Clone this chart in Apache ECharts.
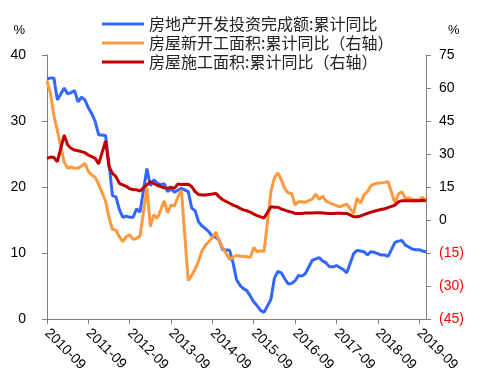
<!DOCTYPE html>
<html><head><meta charset="utf-8">
<script src="https://cdn.jsdelivr.net/npm/echarts@6/dist/echarts.min.js"></script>
<style>html,body{margin:0;padding:0;background:#fff}#c{width:480px;height:387px}</style>
</head><body><div id="c"></div>
<script>
// Monthly categories 2010-09 .. 2019-11 (January not published -> null)
const startYear = 2010, startMonth = 9, monthCount = 111;
const categories = [];
for (let i = 0; i < monthCount; i++) {
  const m = (startMonth - 1 + i) % 12 + 1;
  const y = startYear + Math.floor((startMonth - 1 + i) / 12);
  categories.push(y + '-' + (m < 10 ? '0' + m : m));
}
const seriesNames = ['房地产开发投资完成额:累计同比', '房屋新开工面积:累计同比（右轴）', '房屋施工面积:累计同比（右轴）'];
const investYoY = [36.4,36.5,36.5,33.2,
 null,35.0,34.1,34.3,34.6,32.9,33.6,33.2,32.0,31.1,29.9,27.9,
 null,27.8,23.5,18.7,18.5,16.6,15.4,15.6,15.4,15.4,16.7,16.2,
 null,22.8,20.2,21.1,20.6,20.3,20.5,19.3,19.7,19.2,19.5,19.8,
 null,19.3,16.8,16.4,14.7,14.1,13.7,13.2,12.5,12.4,11.9,10.5,
 null,10.4,8.5,6.0,5.1,4.6,4.3,3.5,2.6,2.0,1.3,1.0,
 null,3.0,6.2,7.2,7.0,6.1,5.3,5.4,5.8,6.6,6.5,6.9,
 null,8.9,9.1,9.3,8.8,8.5,7.9,7.9,8.1,7.8,7.5,7.0,
 null,9.9,10.4,10.3,10.2,9.7,10.2,10.1,9.9,9.7,9.7,9.5,
 null,11.6,11.8,11.9,11.2,10.9,10.6,10.5,10.5,10.3,10.2];
const newStartYoY = [63.3,57.5,47.5,40.7,
 null,26.2,23.5,24.2,23.5,23.6,24.5,25.8,22.0,20.5,19.4,16.2,
 null,8.5,1.0,-4.3,-4.6,-7.6,-9.8,-7.6,-6.8,-8.8,-8.3,-7.3,
 null,14.7,-3.0,2.3,0.8,4.5,8.8,3.3,6.8,6.4,10.5,13.5,
 null,-27.6,-25.2,-22.3,-18.5,-14.0,-11.5,-9.8,-8.0,-5.5,-9.8,-12.6,
 null,-17.9,-17.0,-16.0,-16.5,-16.5,-16.7,-17.0,-12.5,-14.4,-14.0,-14.2,
 null,12.9,19.2,21.4,18.3,14.4,12.3,12.1,6.8,8.3,8.3,8.1,
 null,9.5,11.8,9.3,10.9,8.5,7.8,7.2,6.5,6.0,6.7,7.2,
 null,3.0,10.0,7.6,11.4,12.9,15.5,16.4,16.7,16.9,17.1,17.4,
 null,7.6,11.8,12.9,9.8,10.0,9.4,9.1,9.3,10.3,9.1];
const underConstYoY = [28.0,28.6,28.4,26.5,
 null,38.6,34.1,32.6,31.8,31.5,31.1,30.6,29.5,28.8,28.0,25.5,
 null,35.9,24.2,21.2,19.7,16.7,16.0,15.3,14.2,13.9,13.7,13.2,
 null,16.0,17.4,16.6,15.8,15.2,14.6,14.4,14.9,14.4,16.4,16.1,
 null,16.2,15.2,12.9,11.6,11.4,11.4,11.6,11.8,12.1,10.5,9.2,
 null,7.6,6.8,6.2,5.3,4.6,4.2,3.6,2.7,2.0,1.4,0.9,
 null,6.0,5.8,5.8,5.0,4.5,4.0,3.6,3.0,3.0,3.0,3.2,
 null,3.2,3.3,3.3,3.2,3.1,3.0,3.0,3.1,3.1,3.0,3.0,
 null,1.5,1.5,1.8,2.4,3.0,3.6,4.0,4.4,4.8,5.1,5.6,
 null,6.8,8.2,8.8,8.8,8.8,8.7,8.8,8.7,9.0,8.7];
const colors = ['#3366FF', '#FF9940', '#C00000'];

const chart = echarts.init(document.getElementById('c'), null, {renderer: 'canvas'});
const axisLine = {show: true, lineStyle: {color: '#808080', width: 1}};
const numFont = 'Liberation Sans, Arial, sans-serif';
chart.setOption({
  animation: false,
  color: colors,
  grid: {left: 47, right: 54, top: 55, bottom: 68, containLabel: false},
  legend: {
    orient: 'vertical', left: 97, top: 11, itemWidth: 42, itemHeight: 3, itemGap: 3,
    icon: 'rect',
    textStyle: {fontFamily: 'Noto Sans CJK SC', fontSize: 16, color: '#222'},
    data: seriesNames
  },
  xAxis: {
    type: 'category', data: categories, boundaryGap: false,
    axisLine: axisLine,
    axisTick: {show: true, interval: 11, length: 5, lineStyle: {color: '#808080'}},
    axisLabel: {interval: 11, rotate: -45, margin: 12, fontFamily: numFont, fontSize: 14, color: '#000'},
    splitLine: {show: false}
  },
  yAxis: [{
    type: 'value', min: 0, max: 40, interval: 10, position: 'left',
    name: '%', nameLocation: 'end', nameGap: 18,
    nameTextStyle: {fontFamily: numFont, fontSize: 13, color: '#000', align: 'right', padding: [0, 22, 0, 0]},
    axisLine: axisLine,
    axisTick: {show: true, length: 5, lineStyle: {color: '#808080'}},
    axisLabel: {margin: 21, fontFamily: numFont, fontSize: 14, color: '#000'},
    splitLine: {show: false}
  }, {
    type: 'value', min: -45, max: 75, interval: 15, position: 'right',
    name: '%', nameLocation: 'end', nameGap: 18,
    nameTextStyle: {fontFamily: numFont, fontSize: 13, color: '#000', align: 'left', padding: [0, 0, 0, 22]},
    axisLine: axisLine,
    axisTick: {show: true, length: 5, lineStyle: {color: '#808080'}},
    axisLabel: {
      margin: 13, fontFamily: numFont, fontSize: 14, color: '#000',
      formatter: function (v) { return v < 0 ? '{neg|(' + (-v) + ')}' : String(v); },
      rich: {neg: {color: '#FF0000', fontFamily: numFont, fontSize: 14}}
    },
    splitLine: {show: false}
  }],
  series: [
    {name: seriesNames[0], type: 'line', yAxisIndex: 0, data: investYoY, connectNulls: true, showSymbol: false, symbol: 'none', lineStyle: {width: 3}},
    {name: seriesNames[1], type: 'line', yAxisIndex: 1, data: newStartYoY, connectNulls: true, showSymbol: false, symbol: 'none', lineStyle: {width: 3}},
    {name: seriesNames[2], type: 'line', yAxisIndex: 1, data: underConstYoY, connectNulls: true, showSymbol: false, symbol: 'none', lineStyle: {width: 3}}
  ]
});
</script></body></html>
